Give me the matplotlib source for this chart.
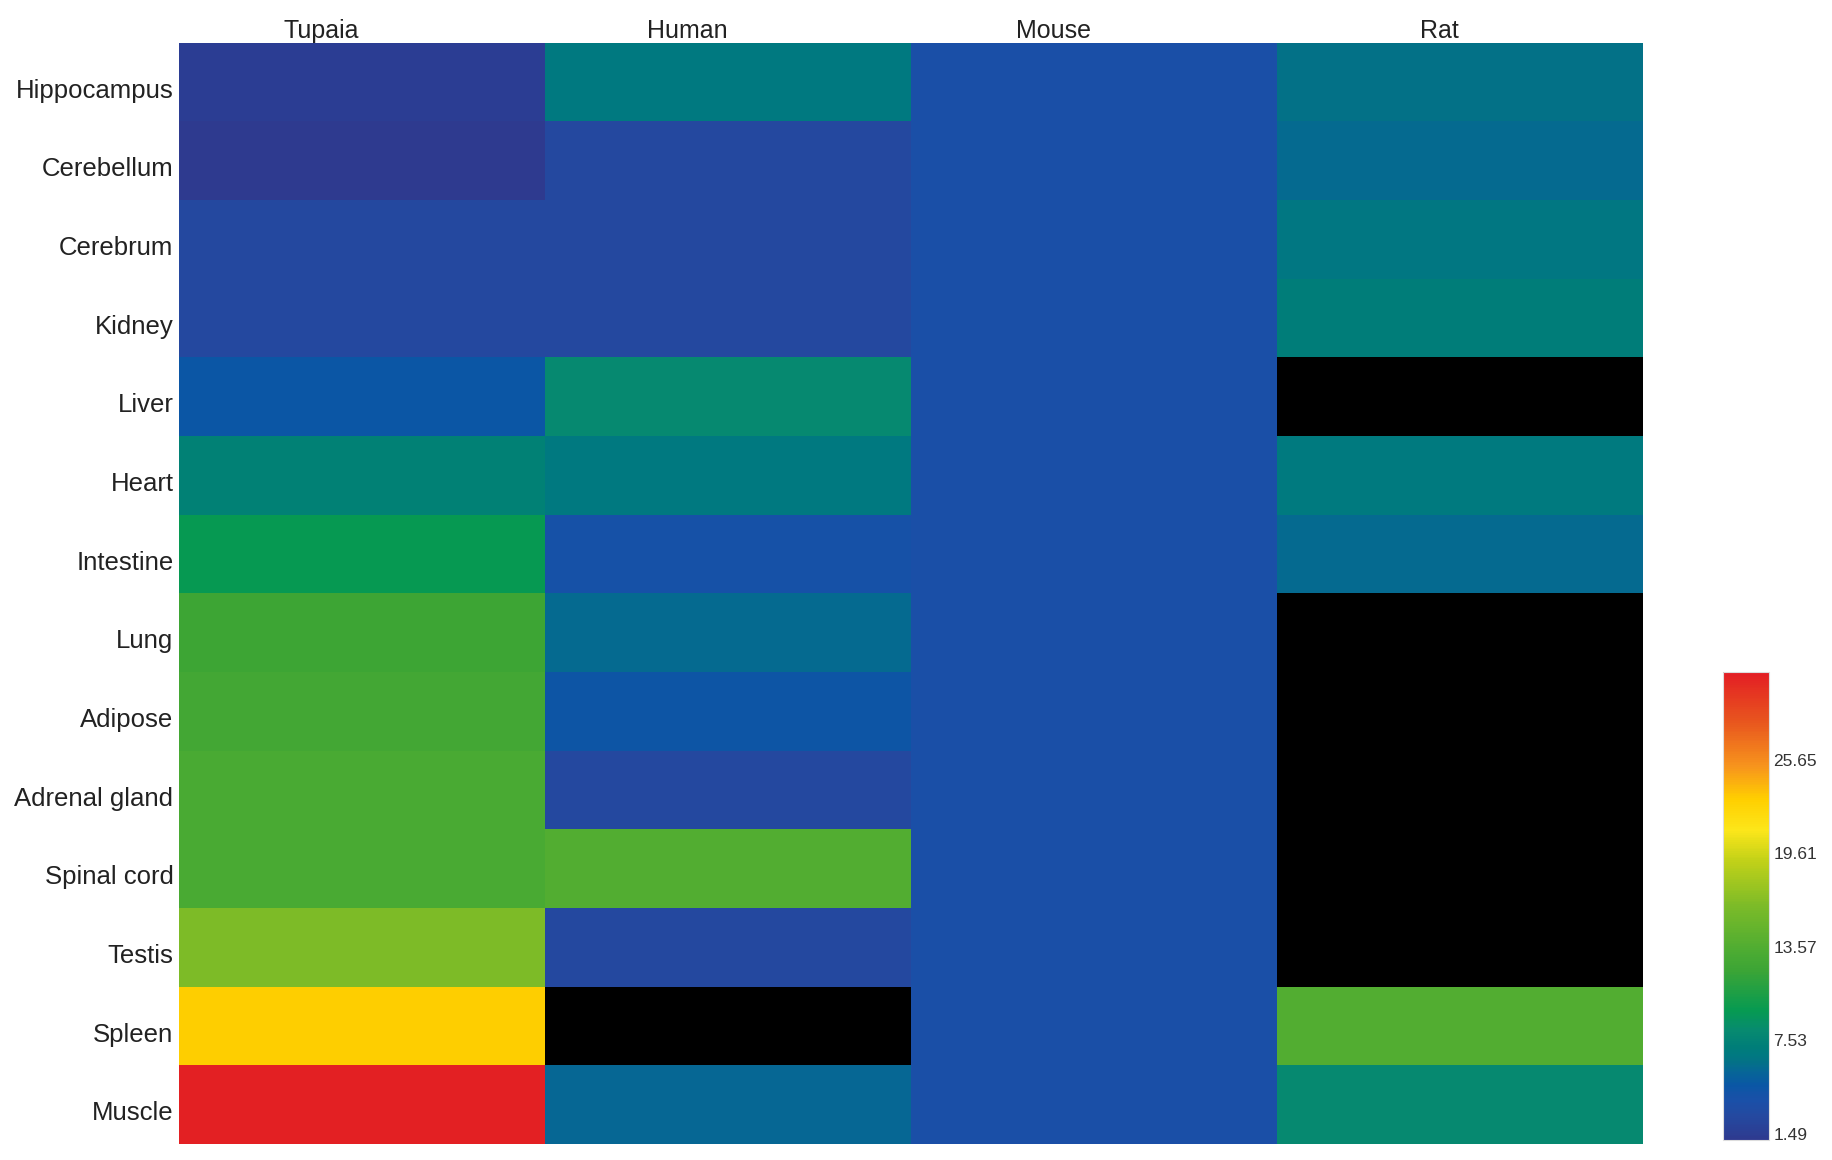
import numpy as np
import matplotlib
matplotlib.use("Agg")
import matplotlib.pyplot as plt
import matplotlib.transforms as mtransforms
from matplotlib.colors import LinearSegmentedColormap

plt.rcParams['font.family'] = ['Liberation Sans', 'DejaVu Sans']

tissues = ["Hippocampus", "Cerebellum", "Cerebrum", "Kidney", "Liver", "Heart",
           "Intestine", "Lung", "Adipose", "Adrenal gland", "Spinal cord",
           "Testis", "Spleen", "Muscle"]
species = ["Tupaia", "Human", "Mouse", "Rat"]

nan = np.nan
tupaia = [1.9, 1.6, 3.0, 3.0, 5.0, 7.8, 9.8, 12.5, 13.0, 13.5, 13.5, 16.6, 23.5, 31.5]
human = [7.0, 3.0, 3.0, 3.0, 8.5, 7.0, 4.3, 6.2, 4.8, 3.0, 14.0, 3.0, nan, 6.0]
mouse = [4.0] * 14
rat = [6.5, 6.2, 6.9, 7.4, nan, 7.1, 6.1, nan, nan, nan, nan, nan, 14.0, 8.5]

cbar_ticks = [1.49, 7.53, 13.57, 19.61, 25.65]
vmin, vmax = 1.49, 31.69

# colormap anchors (value, colour)
anchor_vals = [1.49, 3.0, 4.0, 5.0, 6.0, 6.5, 7.0, 7.5, 8.5, 9.8, 12.5, 13.5,
               16.6, 19.61, 21.5, 23.5, 25.65, 28.5, 31.69]
anchor_cols = ["#2e3a8f", "#2449a0", "#1a50a8", "#0a57a5", "#066894", "#037286",
               "#007a80", "#007e78", "#078a70", "#069a52", "#3da535", "#4aab33",
               "#7cbb28", "#c4d218", "#fce61a", "#ffcf00", "#f7941d", "#e8561e",
               "#e31e24"]
pos = [(v - vmin) / (vmax - vmin) for v in anchor_vals]
cmap = LinearSegmentedColormap.from_list("heat", list(zip(pos, anchor_cols)))
cmap.set_bad("black")

data = np.ma.masked_invalid(np.array([tupaia, human, mouse, rat]).T)

fig = plt.figure(figsize=(18.32, 11.6), dpi=100)
ax = fig.add_axes([179/1832, 1 - 1144/1160, (1643-179)/1832, (1144-43)/1160])
im = ax.imshow(data, aspect="auto", cmap=cmap, vmin=vmin, vmax=vmax,
               interpolation="nearest")
for s in ax.spines.values():
    s.set_visible(False)

label_shift = [-0.11, -0.11, -0.11, -0.057]
ax.set_xticks([i + d for i, d in enumerate(label_shift)])
ax.set_xticklabels(species, fontsize=18, color="#222222")
ax.xaxis.tick_top()
ax.tick_params(axis="x", length=0, pad=0)
ax.set_yticks(range(len(tissues)))
ax.set_yticklabels(tissues, fontsize=18.5, color="#222222")
ax.tick_params(axis="y", length=0, pad=4)
down = mtransforms.ScaledTranslation(0, -6/100, fig.dpi_scale_trans)
for lab in ax.get_yticklabels():
    lab.set_transform(lab.get_transform() + down)

cax = fig.add_axes([1723/1832, 1 - 1140/1160, 46/1832, 468/1160])
cb = fig.colorbar(im, cax=cax)
cb.set_ticks(cbar_ticks)
cb.set_ticklabels([f"{t:.2f}" for t in cbar_ticks])
cb.outline.set_edgecolor("#dddddd")
cb.outline.set_linewidth(0.8)
cax.tick_params(length=0, labelsize=12.5, labelcolor="#333333", pad=3)
up = mtransforms.ScaledTranslation(0, 6/100, fig.dpi_scale_trans)
for lab in cax.get_yticklabels():
    lab.set_transform(lab.get_transform() + up)

fig.savefig("out.png", dpi=100)
